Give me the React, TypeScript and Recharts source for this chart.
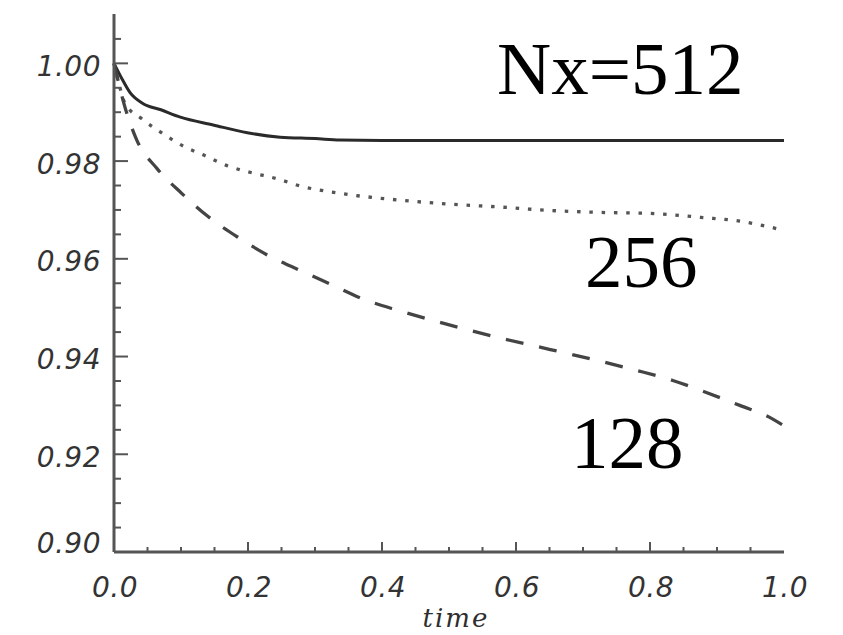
import { LineChart, Line, XAxis, YAxis } from "recharts";

// Nx = 512 (solid)
const times512 = [0, 0.012, 0.024, 0.043, 0.07, 0.099, 0.148, 0.199, 0.248, 0.3, 0.337, 0.4, 0.5, 0.6, 0.7, 0.8, 0.9, 1.0];
const values512 = [1.0, 0.9968, 0.994, 0.9918, 0.9905, 0.989, 0.9874, 0.9858, 0.9849, 0.9846, 0.9843, 0.9842, 0.9842, 0.9842, 0.9842, 0.9842, 0.9842, 0.9842];

// Nx = 256 (dotted)
const times256 = [0, 0.008, 0.016, 0.042, 0.072, 0.103, 0.136, 0.17, 0.206, 0.243, 0.278, 0.333, 0.427, 0.5, 0.576, 0.651, 0.725, 0.8, 0.875, 0.934, 0.979, 1.0];
const values256 = [1.0, 0.9955, 0.9919, 0.9886, 0.9857, 0.9831, 0.9811, 0.979, 0.9776, 0.9764, 0.9749, 0.9735, 0.972, 0.9712, 0.9706, 0.9699, 0.9695, 0.9693, 0.9685, 0.9677, 0.9665, 0.9658];

// Nx = 128 (dashed)
const times128 = [0, 0.016, 0.034, 0.064, 0.101, 0.14, 0.185, 0.23, 0.278, 0.325, 0.375, 0.425, 0.476, 0.527, 0.579, 0.633, 0.684, 0.733, 0.782, 0.834, 0.885, 0.934, 0.982, 1.0];
const values128 = [1.0, 0.9912, 0.9843, 0.9785, 0.9734, 0.9687, 0.9644, 0.9607, 0.9576, 0.9547, 0.9516, 0.9494, 0.9474, 0.9455, 0.9437, 0.942, 0.9404, 0.9388, 0.9371, 0.9351, 0.9326, 0.93, 0.9273, 0.9258];

const xTicks = [0, 0.05, 0.1, 0.15, 0.2, 0.25, 0.3, 0.35, 0.4, 0.45, 0.5, 0.55, 0.6, 0.65, 0.7, 0.75, 0.8, 0.85, 0.9, 0.95, 1.0];
const xLabelTicks = [0, 0.2, 0.4, 0.6, 0.8, 1.0];
const yTicks = [0.9, 0.905, 0.91, 0.915, 0.92, 0.925, 0.93, 0.935, 0.94, 0.945, 0.95, 0.955, 0.96, 0.965, 0.97, 0.975, 0.98, 0.985, 0.99, 0.995, 1.0, 1.005];
const yLabelTicks = [0.9, 0.92, 0.94, 0.96, 0.98, 1.0];

const xDomain = [0, 1];
const yDomain = [0.9, 1.0101];

const AXIS = "#555";
const labelStyle = {
  fontFamily: "DejaVu Sans",
  fontStyle: "italic",
  fontSize: 28,
  letterSpacing: 0.5,
  fill: "#333",
};

const toRows = (t: number[], v: number[]) => t.map((time, i) => ({ time, value: v[i] }));
const isIn = (list: number[], v: number) => list.some((m) => Math.abs(m - v) < 1e-9);
const isEnd = (dom: number[], v: number) => Math.abs(v - dom[0]) < 1e-9 || Math.abs(v - dom[1]) < 1e-9;

function LeftTick({ x, y, payload }: any) {
  const v = payload.value;
  const major = isIn(yLabelTicks, v);
  const atBottom = Math.abs(v - yDomain[0]) < 1e-9;
  return (
    <g>
      {!atBottom && (
        <line x1={x} x2={x + (major ? 14 : 7)} y1={y} y2={y} stroke={AXIS} strokeWidth={2} />
      )}
      {major && (
        <text x={x - 13} y={y + (atBottom ? -9 : 3)} textAnchor="end" dominantBaseline="central" style={labelStyle}>
          {v.toFixed(2)}
        </text>
      )}
    </g>
  );
}

function RightTick({ x, y, payload }: any) {
  const major = isIn(yLabelTicks, payload.value);
  if (isEnd(yDomain, payload.value)) return <g />;
  return <line x1={x} x2={x - (major ? 14 : 6)} y1={y} y2={y} stroke={AXIS} strokeWidth={2} />;
}

function BottomTick({ x, y, payload }: any) {
  const v = payload.value;
  const major = isIn(xLabelTicks, v);
  return (
    <g>
      {!isEnd(xDomain, v) && (
        <line x1={x} x2={x} y1={y} y2={y - (major ? 10 : 5)} stroke={AXIS} strokeWidth={2} />
      )}
      {major && (
        <text x={x + 1} y={y + 35} textAnchor="middle" dominantBaseline="central" style={labelStyle}>
          {v.toFixed(1)}
        </text>
      )}
    </g>
  );
}

function TopTick({ x, y, payload }: any) {
  const major = isIn(xLabelTicks, payload.value);
  if (isEnd(xDomain, payload.value)) return <g />;
  return <line x1={x} x2={x} y1={y} y2={y + (major ? 11 : 6)} stroke={AXIS} strokeWidth={2} />;
}

// axis title drawn under the bottom axis
function TimeLabel({ viewBox }: any) {
  const cx = viewBox.x + viewBox.width / 2;
  return (
    <text
      x={cx + 7}
      y={viewBox.y + 75}
      textAnchor="middle"
      style={{ fontFamily: "DejaVu Serif", fontStyle: "italic", fontSize: 26, letterSpacing: 2, fill: "#2e2e2e" }}
    >
      time
    </text>
  );
}

const annotationStyle = { fontFamily: "Liberation Serif", fontSize: 75, fill: "#000" };

export default function App() {
  return (
    <div style={{ position: "absolute", left: 0, top: 0, width: 843, height: 635, background: "#fff" }}>
      <LineChart width={843} height={635} margin={{ top: 14, right: 59, bottom: 0, left: 0 }}>
        <XAxis
          xAxisId="bottom"
          dataKey="time"
          type="number"
          domain={xDomain}
          ticks={xTicks}
          interval={0}
          height={83}
          tickSize={0}
          tickMargin={0}
          tickLine={false}
          axisLine={{ stroke: AXIS, strokeWidth: 3 }}
          tick={(p: any) => <BottomTick {...p} />}
          label={{ value: "time", content: (p: any) => <TimeLabel {...p} /> }}
        />
        <XAxis
          xAxisId="top"
          orientation="top"
          type="number"
          domain={xDomain}
          ticks={xTicks}
          interval={0}
          height={0}
          tickSize={0}
          tickMargin={0}
          tickLine={false}
          axisLine={{ stroke: AXIS, strokeWidth: 3 }}
          tick={(p: any) => <TopTick {...p} />}
        />
        <YAxis
          yAxisId="left"
          type="number"
          domain={yDomain}
          allowDataOverflow
          ticks={yTicks}
          interval={0}
          width={114}
          tickSize={0}
          tickMargin={0}
          tickLine={false}
          axisLine={{ stroke: AXIS, strokeWidth: 3 }}
          tick={(p: any) => <LeftTick {...p} />}
        />
        <YAxis
          yAxisId="right"
          orientation="right"
          type="number"
          domain={yDomain}
          allowDataOverflow
          ticks={yTicks}
          interval={0}
          width={0}
          tickSize={0}
          tickMargin={0}
          tickLine={false}
          axisLine={{ stroke: AXIS, strokeWidth: 3 }}
          tick={(p: any) => <RightTick {...p} />}
        />
        <Line
          xAxisId="bottom"
          yAxisId="left"
          data={toRows(times512, values512)}
          dataKey="value"
          type="monotone"
          stroke="#2a2a2a"
          strokeWidth={3}
          dot={false}
          isAnimationActive={false}
        />
        <Line
          xAxisId="bottom"
          yAxisId="left"
          data={toRows(times256, values256)}
          dataKey="value"
          type="monotone"
          stroke="#555"
          strokeWidth={3.3}
          strokeDasharray="3.5 8.8"
          dot={false}
          isAnimationActive={false}
        />
        <Line
          xAxisId="bottom"
          yAxisId="left"
          data={toRows(times128, values128)}
          dataKey="value"
          type="monotone"
          stroke="#444"
          strokeWidth={3.3}
          strokeDasharray="18 16"
          dot={false}
          isAnimationActive={false}
        />
      </LineChart>
      <svg width={843} height={635} style={{ position: "absolute", left: 0, top: 0, pointerEvents: "none" }}>
        <text x={497} y={94} style={annotationStyle}>Nx=512</text>
        <text x={585} y={287} style={annotationStyle}>256</text>
        <text x={571} y={468} style={annotationStyle}>128</text>
      </svg>
    </div>
  );
}
